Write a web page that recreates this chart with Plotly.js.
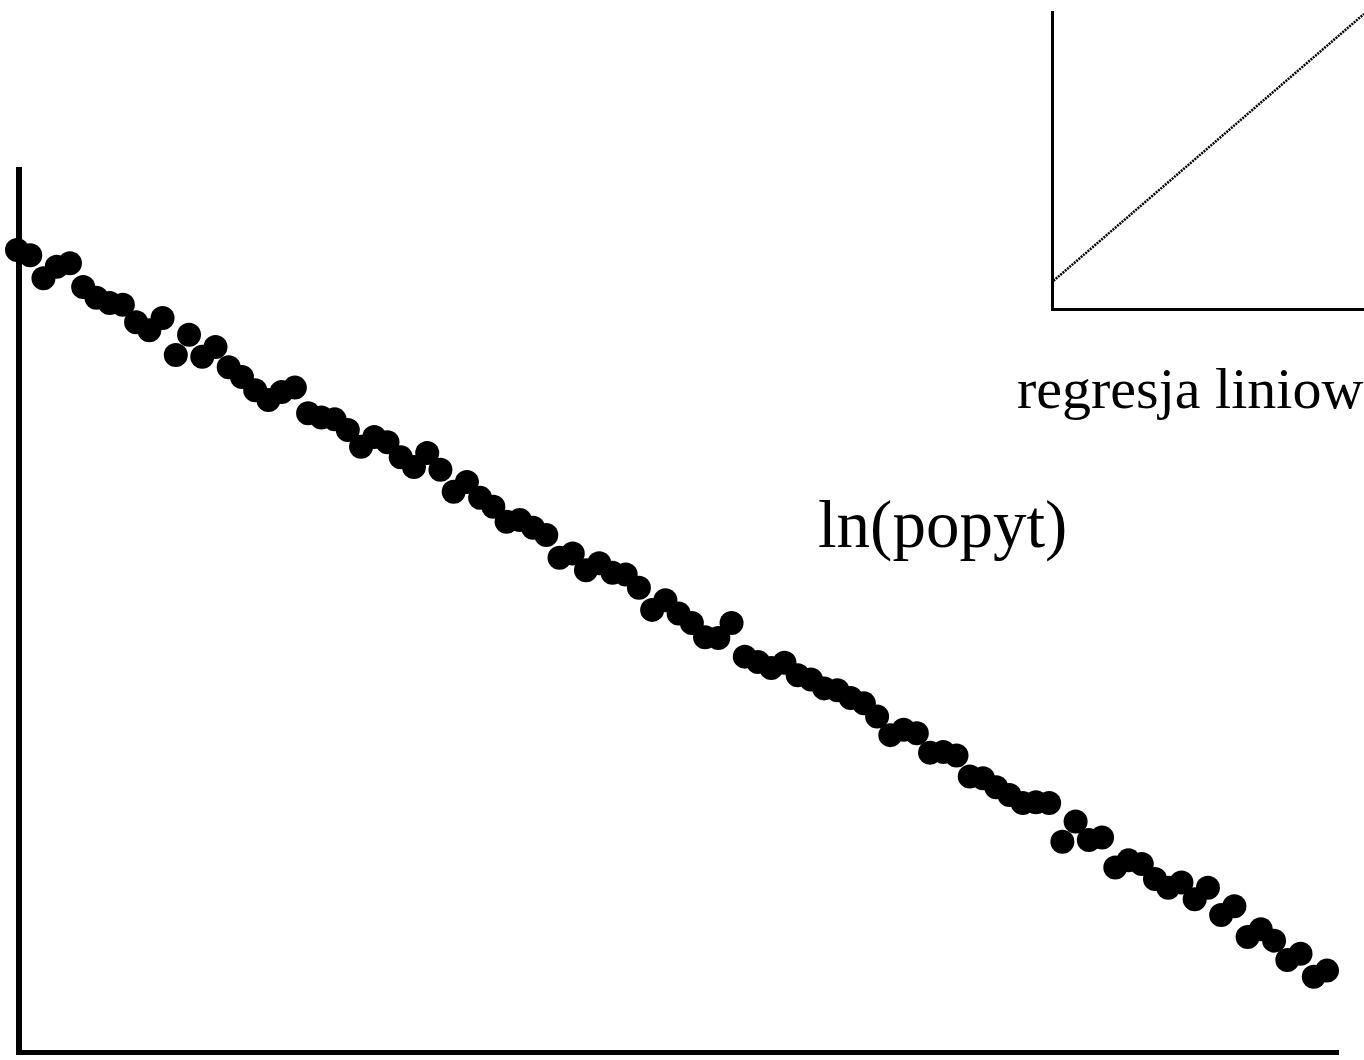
<!DOCTYPE html>
<html>
<head>
<meta charset="utf-8">
<script src="https://cdn.plot.ly/plotly-3.0.1.min.js"></script>
<style>html,body{margin:0;padding:0;background:#fff;}#chart{width:1364px;height:1060px;}</style>
</head>
<body>
<div id="chart"></div>
<script>
// observation index (time / price order)
const obsIndex = Array.from({length: 100}, (_, i) => i + 1);
// ln(demand) values
const lnDemand = [
  9.07, 9.01, 8.75, 8.88, 8.92, 8.65, 8.53, 8.47, 8.45, 8.25,
  8.16, 8.30, 7.88, 8.11, 7.86, 7.97, 7.74, 7.63, 7.48, 7.37,
  7.46, 7.51, 7.22, 7.17, 7.15, 7.03, 6.84, 6.95, 6.89, 6.72,
  6.61, 6.77, 6.58, 6.33, 6.44, 6.26, 6.16, 5.99, 6.01, 5.92,
  5.84, 5.58, 5.63, 5.44, 5.52, 5.41, 5.39, 5.24, 4.99, 5.10,
  4.95, 4.84, 4.68, 4.67, 4.84, 4.46, 4.40, 4.33, 4.39, 4.25,
  4.20, 4.10, 4.08, 3.99, 3.93, 3.78, 3.57, 3.63, 3.59, 3.37,
  3.38, 3.34, 3.10, 3.08, 2.98, 2.89, 2.80, 2.81, 2.80, 2.36,
  2.59, 2.38, 2.41, 2.07, 2.15, 2.11, 1.94, 1.84, 1.90, 1.71,
  1.84, 1.53, 1.63, 1.28, 1.37, 1.24, 1.02, 1.09, 0.83, 0.90
];
// inset: linear regression line
const regX = [0, 1];
const regY = [0.09, 0.99];
// texts
const insetLabel = "regresja liniowa";
const mainLabel = "ln(popyt)";

const serif = "Liberation Serif, DejaVu Serif, serif";
const W = 1364, H = 1060;
const px = v => v / W;
const py = v => (H - v) / H;

const data = [
  {
    type: "scatter", mode: "markers",
    x: obsIndex, y: lnDemand,
    xaxis: "x", yaxis: "y",
    marker: {color: "#000", size: 24, line: {width: 0}},
    cliponaxis: false, hoverinfo: "skip"
  },
  {
    type: "scatter", mode: "lines",
    x: regX, y: regY,
    xaxis: "x2", yaxis: "y2",
    line: {color: "#000", width: 2.5, dash: "2px,1px"},
    cliponaxis: false, hoverinfo: "skip"
  }
];

const hidden = {showgrid: false, zeroline: false, showticklabels: false, ticks: "", showline: false};

const layout = {
  width: W, height: H,
  margin: {l: 0, r: 0, t: 0, b: 0},
  paper_bgcolor: "#fff", plot_bgcolor: "rgba(0,0,0,0)",
  showlegend: false,
  xaxis: Object.assign({}, hidden, {
    domain: [0, 1338 / W], range: [-0.285, 100.83]
  }),
  yaxis: Object.assign({}, hidden, {
    domain: [py(1050), py(168)], range: [0, 10]
  }),
  xaxis2: Object.assign({}, hidden, {
    domain: [1053.5 / W, 1], range: [0, 1], anchor: "y2",
    showline: true, linecolor: "#000", linewidth: 3
  }),
  yaxis2: Object.assign({}, hidden, {
    domain: [py(307.5), py(11)], range: [0, 1], anchor: "x2",
    showline: true, linecolor: "#000", linewidth: 3
  }),
  shapes: [
    {type: "line", xref: "paper", yref: "paper", layer: "below",
     x0: px(19), x1: px(19), y0: py(1055), y1: py(167),
     line: {color: "#000", width: 6}},
    {type: "line", xref: "paper", yref: "paper", layer: "below",
     x0: px(16), x1: px(1339), y0: py(1052.5), y1: py(1052.5),
     line: {color: "#000", width: 5}}
  ],
  annotations: [
    {
      xref: "paper", yref: "paper", x: px(1015), y: py(388),
      xanchor: "left", yanchor: "middle", showarrow: false,
      text: insetLabel, font: {family: serif, size: 58, color: "#000"}
    },
    {
      xref: "paper", yref: "paper", x: px(816), y: py(525),
      xanchor: "left", yanchor: "middle", showarrow: false,
      text: mainLabel, font: {family: serif, size: 67, color: "#000"}
    }
  ]
};

Plotly.newPlot("chart", data, layout, {staticPlot: true, displayModeBar: false});
</script>
</body>
</html>
